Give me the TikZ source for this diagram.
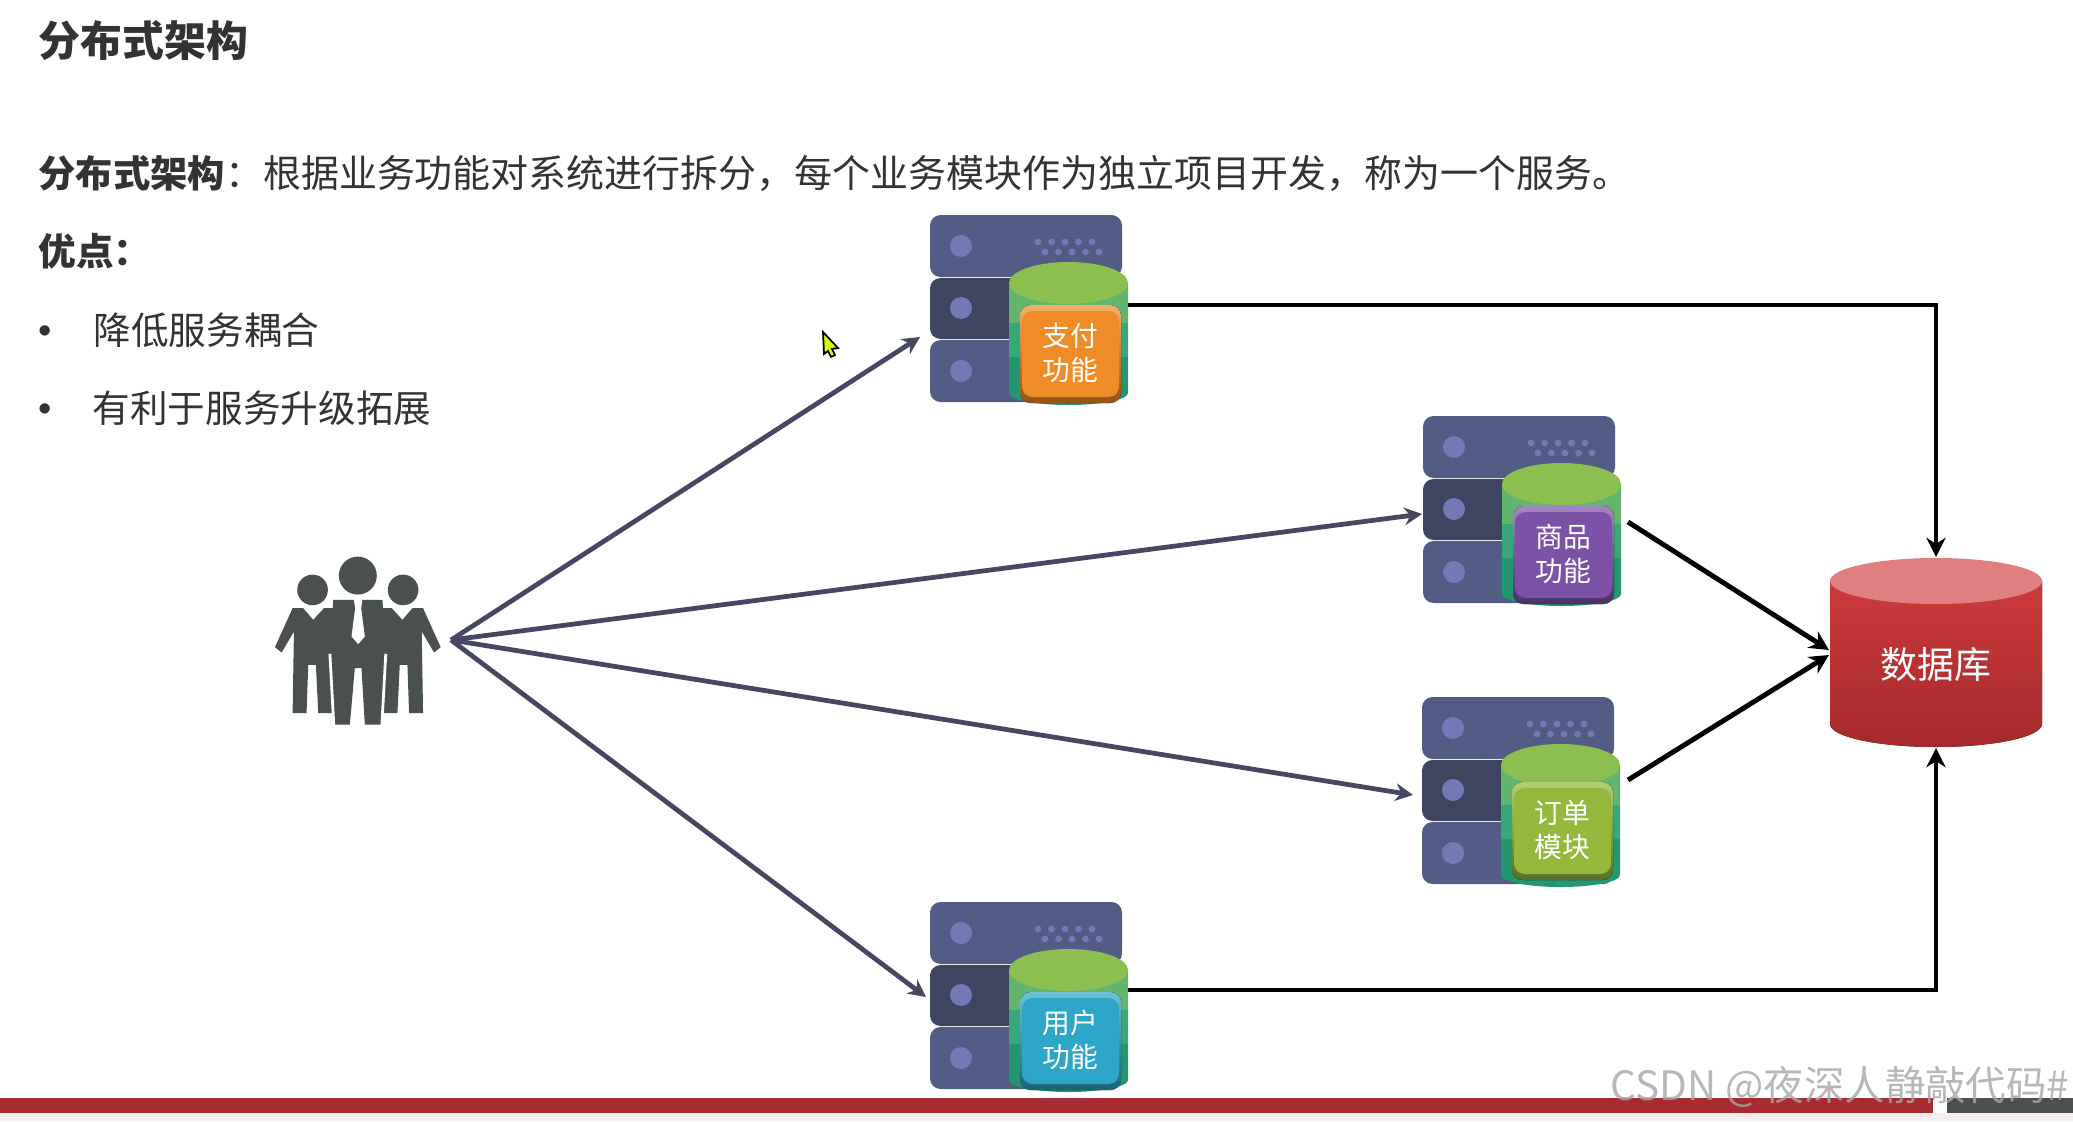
\documentclass[tikz,border=0pt]{standalone}
\usepackage{fontspec}
\setmainfont{Noto Sans CJK SC}
\newfontfamily\bulletfont{Liberation Sans}
\usetikzlibrary{arrows.meta, calc}
\definecolor{textdark}{HTML}{333333}
\definecolor{rowlight}{HTML}{535C84}
\definecolor{rowdark}{HTML}{3F4461}
\definecolor{rowdot}{HTML}{7379B5}
\definecolor{crowdgray}{HTML}{4A4F4F}
\definecolor{usergray}{HTML}{454860}
\definecolor{barred}{HTML}{A92A30}
\definecolor{bardark}{HTML}{4B4F50}
\definecolor{barpale}{HTML}{F6EEED}
\definecolor{cantop}{HTML}{8BBF4F}
\definecolor{canupper}{HTML}{62B56C}
\definecolor{canmiddle}{HTML}{38A87A}
\definecolor{canlower}{HTML}{229770}
\definecolor{payorange}{HTML}{F08C28}
\definecolor{goodspurple}{HTML}{7C52A6}
\definecolor{orderlime}{HTML}{93B83C}
\definecolor{serviceblue}{HTML}{2DA6C8}
\definecolor{dbtopred}{HTML}{E07F7F}
\definecolor{dbupperred}{HTML}{CC3A3A}
\definecolor{dblowerred}{HTML}{A52A2C}
\tikzset{
	titletext/.style={anchor=west, inner sep=0pt, text=textdark, font=\fontsize{11.9}{14}\selectfont\bfseries}
}
\tikzset{
	bodytext/.style={anchor=west, inner sep=0pt, text=textdark, font=\fontsize{10.7}{13}\selectfont}
}
\tikzset{
	badgetext/.style={inner sep=0pt, align=center, text=white, font=\fontsize{7.9}{9.7}\selectfont}
}
\tikzset{
	userarrow/.style={line width=1.35pt, usergray, -{Stealth[length=5pt,width=5pt]}},
	dbarrow/.style={line width=1.4pt, black, -{Stealth[length=5.5pt,width=5.5pt]}}
}
% name, left, top, badge colour, label, badge shift
\newcommand{\servernode}[6]{
  \begin{scope}[shift={(#2,#3)}]
    \fill[rowlight, rounded corners=3pt] (0,0) rectangle (192,62);
    \fill[rowdark, rounded corners=3pt] (0,63) rectangle (192,124);
    \fill[rowlight, rounded corners=3pt] (0,125) rectangle (192,187);
    \foreach \rowy in {31,93,156} \fill[rowdot] (31,\rowy) circle (11);
    \foreach \dotx in {0,1,2,3,4} {
      \fill[rowdot] (108+13.5*\dotx,27) circle (3.4);
      \fill[rowdot] (115+13.5*\dotx,37) circle (3.4);
    }
    \begin{scope}
      \clip (79,68) -- (79,178) arc[start angle=180, end angle=0, x radius=59.5, y radius=12] -- (198,68) -- cycle;
      \fill[canupper] (70,40) rectangle (210,108);
      \fill[canmiddle] (70,108) rectangle (210,142);
      \fill[canlower] (70,142) rectangle (210,200);
    \end{scope}
    \fill[cantop] (138.5,68) ellipse [x radius=59.5, y radius=21];
    \fill[rounded corners=3pt, top color=#4!70!white, bottom color=#4!60!black] (90,90+#6) rectangle (191,188+#6);
    \fill[#4, rounded corners=3pt] (92,96+#6) rectangle (189,182+#6);
    \node[badgetext] (#1) at (140,138+#6) {#5};
  \end{scope}
}
\begin{document}
\begin{tikzpicture}[x=0.01cm, y=-0.01cm]
      \useasboundingbox (0,0) rectangle (2073,1121);
      \fill[white] (0,0) rectangle (2073,1121);

      \node[titletext] (title) at (38,41) {分布式架构};
      \node[bodytext, font=\fontsize{10.8}{13}\selectfont] (intro) at (38,173) {{\fontsize{10.6}{13}\selectfont\bfseries 分布式架构}：根据业务功能对系统进行拆分，每个业务模块作为独立项目开发，称为一个服务。};
      \node[bodytext, font=\fontsize{10.7}{13}\selectfont\bfseries] (pros) at (38,251) {优点：};
      \node[bodytext, font=\fontsize{10.8}{13}\selectfont\bulletfont] (bulleta) at (38,335) {•};
      \node[bodytext] (prosa) at (93,330) {降低服务耦合};
      \node[bodytext, font=\fontsize{10.8}{13}\selectfont\bulletfont] (bulletb) at (38,413) {•};
      \node[bodytext] (prosb) at (92,408) {有利于服务升级拓展};

      % crowd
      \begin{scope}[shift={(250,530)}, x=0.003333cm, y=-0.003333cm]
        \foreach \side/\move in {1/0,-1/648} {
          \begin{scope}[shift={(\move,0)}, xscale=\side]
            \fill[crowdgray] (188,180) circle (46);
            \fill[crowdgray] (128,235) -- (160,235) -- (190,270) -- (222,235) -- (250,235) -- (250,550) -- (205,550) -- (198,405) -- (175,405) -- (170,550) -- (128,550) -- (132,305) -- (95,368) -- (75,352) -- cycle;
          \end{scope}
        }
        \fill[crowdgray] (324,137) circle (57);
        \fill[crowdgray] (250,210) -- (398,210) -- (408,370) -- (395,585) -- (345,585) -- (335,415) -- (315,415) -- (300,585) -- (252,585) -- (240,370) -- cycle;
        \draw[white, line width=0.8pt] (240,372) -- (252,590);
        \draw[white, line width=0.8pt] (408,372) -- (396,590);
        \fill[white] (312,208) -- (338,208) -- (334,235) -- (345,320) -- (325,343) -- (305,320) -- (316,235) -- cycle;
      \end{scope}

      \servernode{pay}{930}{215}{payorange}{支付\\功能}{0}
      \servernode{goods}{1423}{416}{goodspurple}{商品\\功能}{0}
      \servernode{order}{1422}{697}{orderlime}{订单\\模块}{-5}
      \servernode{service}{930}{902}{serviceblue}{用户\\功能}{0}

      % database
      \fill[top color=dbupperred, bottom color=dblowerred] (1830,581) -- (1830,724) arc[start angle=180, end angle=0, x radius=106, y radius=23] -- (2042,581) -- cycle;
      \fill[dbtopred] (1936,581) ellipse [x radius=106, y radius=23];
      \node[inner sep=0pt, text=white, font=\fontsize{10.5}{13}\selectfont] (db) at (1936,665) {数据库};

      % cursor
      \filldraw[draw=black, fill=lime!70!yellow, line width=0.5pt] (823,332) -- (838,348) -- (832,349) -- (835,355) -- (831,357) -- (828,351) -- (824,354) -- cycle;

      \coordinate (crowd) at (451,640);
      \coordinate (payin) at (920,337);
      \coordinate (goodsin) at (1422,514);
      \coordinate (orderin) at (1413,795);
      \coordinate (servicein) at (926,997);
      \coordinate (payout) at (1128,305);
      \coordinate (goodsout) at (1628,522);
      \coordinate (orderout) at (1628,780);
      \coordinate (serviceout) at (1128,990);
      \coordinate (dbtop) at (1936,557);
      \coordinate (dbbottom) at (1936,748);
      \coordinate (dbupper) at (1829,650);
      \coordinate (dblower) at (1829,655);

      \draw[userarrow] (crowd) -- (payin);
      \draw[userarrow] (crowd) -- (goodsin);
      \draw[userarrow] (crowd) -- (orderin);
      \draw[userarrow] (crowd) -- (servicein);
      \draw[dbarrow] (payout) -| (dbtop);
      \draw[dbarrow] (serviceout) -| (dbbottom);
      \draw[dbarrow] (goodsout) -- (dbupper);
      \draw[dbarrow] (orderout) -- (dblower);

      % bottom bar
      \fill[barpale] (0,1113) rectangle (2073,1121);
      \fill[barred] (0,1098) rectangle (1933,1113);
      \fill[bardark] (1947,1098) rectangle (2073,1113);
      \node[anchor=east, inner sep=0pt, text=gray!70, opacity=0.8, font=\fontsize{11.5}{13}\selectfont] (mark) at (2070,1087) {CSDN @夜深人静敲代码\#};
    \end{tikzpicture}
\end{document}
